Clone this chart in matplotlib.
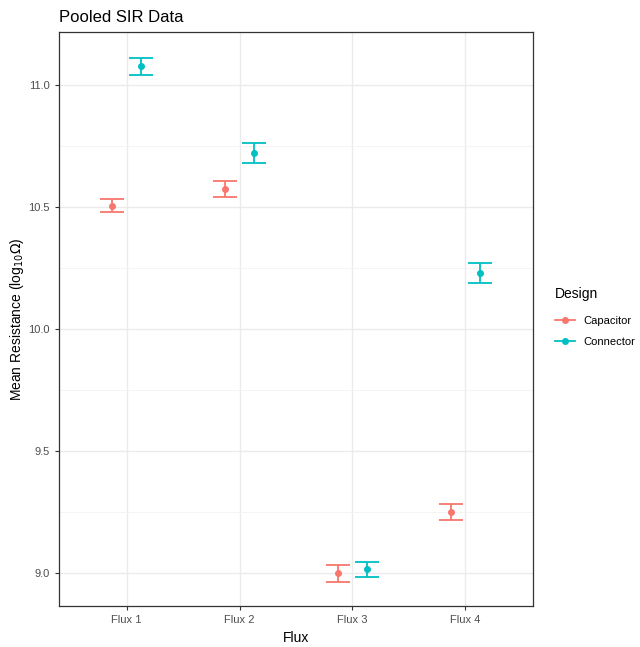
import numpy as np
from matplotlib import pyplot as plt
from matplotlib.lines import Line2D
from matplotlib.ticker import MultipleLocator

flux = ['Flux 1', 'Flux 2', 'Flux 3', 'Flux 4']
designs = ['Capacitor', 'Connector']
colors = {'Capacitor': '#F8766D', 'Connector': '#00BFC4'}

mean_capacitor = [10.505, 10.575, 8.998, 9.249]
err_capacitor = [0.027, 0.032, 0.035, 0.033]
mean_connector = [11.078, 10.722, 9.014, 10.229]
err_connector = [0.035, 0.040, 0.030, 0.040]

means = {'Capacitor': mean_capacitor, 'Connector': mean_connector}
errs = {'Capacitor': err_capacitor, 'Connector': err_connector}

plt.rcParams['font.family'] = ['Liberation Sans', 'DejaVu Sans']
plt.rcParams['mathtext.fontset'] = 'dejavusans'

fig = plt.figure(figsize=(6.4, 6.47), dpi=100)
ax = fig.add_axes([0.092, 0.063, 0.741, 0.888])

x = np.arange(1, len(flux) + 1)
offsets = {'Capacitor': -0.128, 'Connector': 0.128}
for d in designs:
    ax.errorbar(x + offsets[d], means[d], yerr=errs[d], fmt='o', ms=4,
                color=colors[d], ecolor=colors[d], elinewidth=1.3,
                capsize=8.3, capthick=1.3, zorder=3)

ax.set_xlim(0.4, 4.6)
ax.set_ylim(8.862, 11.22)
ax.set_xticks(x)
ax.set_xticklabels(flux)
ax.yaxis.set_major_locator(MultipleLocator(0.5))
ax.yaxis.set_minor_locator(MultipleLocator(0.25))
ax.yaxis.set_major_formatter(plt.FormatStrFormatter('%.1f'))

ax.grid(which='major', color='#EBEBEB', lw=1.0, zorder=0)
ax.grid(which='minor', axis='y', color='#F3F3F3', lw=0.6, zorder=0)
ax.set_axisbelow(True)
for s in ax.spines.values():
    s.set_color('#333333')
    s.set_linewidth(0.9)
ax.tick_params(which='major', length=3, color='#333333', labelcolor='#4D4D4D', labelsize=8)
ax.tick_params(which='minor', length=0)

ax.set_xlabel('Flux', fontsize=10, labelpad=4)
ax.set_ylabel(r'Mean Resistance (log$_{10}\Omega$)', fontsize=10, labelpad=2)
ax.set_title('Pooled SIR Data', fontsize=12, loc='left', pad=7)

# legend keys: short line through a point, as in ggplot's pointrange key
handles = [Line2D([], [], color=colors[d], marker='o', ms=4, lw=1.3) for d in designs]
leg = ax.legend(handles, designs, loc='center left', bbox_to_anchor=(1.025, 0.5),
                frameon=False, title='Design', fontsize=8, title_fontsize=10,
                handlelength=1.8, handletextpad=0.8, labelspacing=1.0,
                borderaxespad=0.5)
leg._legend_box.align = 'left'
leg.get_title().set_position((0, 4))

plt.savefig('out.png', dpi=100)
